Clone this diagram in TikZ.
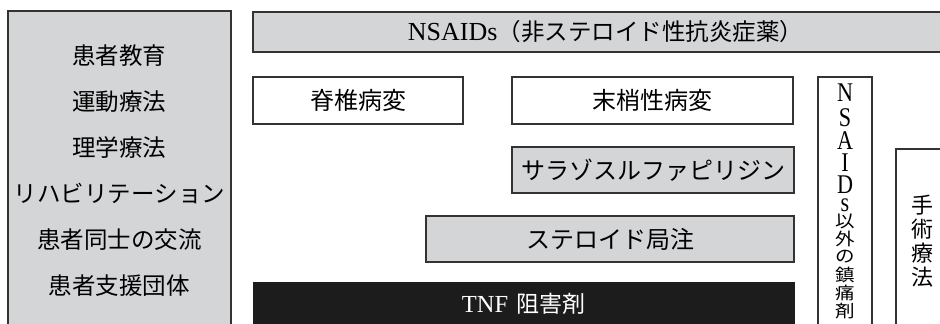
\documentclass[tikz,border=0pt]{standalone}
\usepackage{fontspec}
\usepackage{graphicx}
\newfontfamily\cjk{Noto Sans CJK JP}
\newfontfamily\lat{Liberation Serif}
\definecolor{boxgray}{HTML}{D4D5D7}
\definecolor{edge}{HTML}{333333}
\definecolor{tnfblack}{HTML}{1C1C1C}
\newcommand{\vlat}[1]{\scalebox{0.82}[1]{\lat\fontsize{27}{28}\selectfont #1}}
\newcommand{\vjp}[1]{\scalebox{1}[0.88]{\cjk\fontsize{19.5}{20}\selectfont #1}}
\begin{document}
\begin{tikzpicture}[x=1pt,y=-1pt,
  basebox/.style={draw=edge, line width=1.1pt, inner sep=0pt, outer sep=0pt},
  graybox/.style={basebox, fill=boxgray},
  whitebox/.style={basebox, fill=white},
  blackbox/.style={draw=tnfblack, fill=tnfblack, inner sep=0pt, outer sep=0pt},
  jp/.style={font=\cjk\fontsize{24}{26}\selectfont, inner sep=0pt},
  vchar/.style={inner sep=0pt},
]
\useasboundingbox (0,0) rectangle (940,324);
\clip (0,0) rectangle (940,324);

% left box
\node[graybox, minimum width=223pt, minimum height=320pt, anchor=north west] (care) at (8,11) {};
\node[font=\cjk\fontsize{23.5}{46}\selectfont, align=center, inner sep=0pt] (caretext) at (119.5,171)
  {患者教育\\運動療法\\理学療法\\リハビリテーション\\患者同士の交流\\患者支援団体};

% top bar
\node[graybox, minimum width=700pt, minimum height=40pt, anchor=north west] (nsaids) at (253,12) {};
\node[inner sep=0pt] (nsaidstext) at (605.5,32)
  {{\lat\fontsize{26}{28}\selectfont NSAIDs}{\cjk\fontsize{23.5}{26}\selectfont （非ステロイド性抗炎症薬）}};

% white boxes
\node[whitebox, jp, minimum width=210pt, minimum height=47pt] (spine) at (358,100.5) {脊椎病変};
\node[whitebox, jp, minimum width=281pt, minimum height=47pt] (periph) at (652.5,100.5) {末梢性病変};

% gray boxes
\node[graybox, jp, minimum width=282pt, minimum height=46pt] (sasp) at (653,170) {サラゾスルファピリジン};
\node[graybox, jp, minimum width=368pt, minimum height=46pt] (steroid) at (610,239) {ステロイド局注};

% TNF
\node[blackbox, minimum width=541pt, minimum height=44pt, text=white] (tnf) at (523.5,304)
  {{\lat\fontsize{24.5}{26}\selectfont TNF}\hspace{8pt}{\cjk\fontsize{23}{26}\selectfont 阻害剤}};

% vertical box: other analgesics
\node[whitebox, minimum width=54pt, minimum height=260pt, anchor=north west] (other) at (818,77) {};
\foreach \ch/\yy [count=\i] in {N/93,S/118,A/141,I/163,D/185,s/205}
  \node[vchar] (ol\i) at (845,\yy) {\vlat{\ch}};
\foreach \ch/\yy [count=\i] in {以/221,外/239,の/257,鎮/275,痛/293,剤/311}
  \node[vchar] (oj\i) at (845,\yy) {\vjp{\ch}};

% surgery
\node[whitebox, minimum width=60pt, minimum height=190pt, anchor=north west] (surgery) at (896,149) {};
\node[font=\cjk\fontsize{22}{24}\selectfont, align=center, inner sep=0pt] (surgerytext) at (922,241)
  {手\\術\\療\\法};
\end{tikzpicture}
\end{document}
